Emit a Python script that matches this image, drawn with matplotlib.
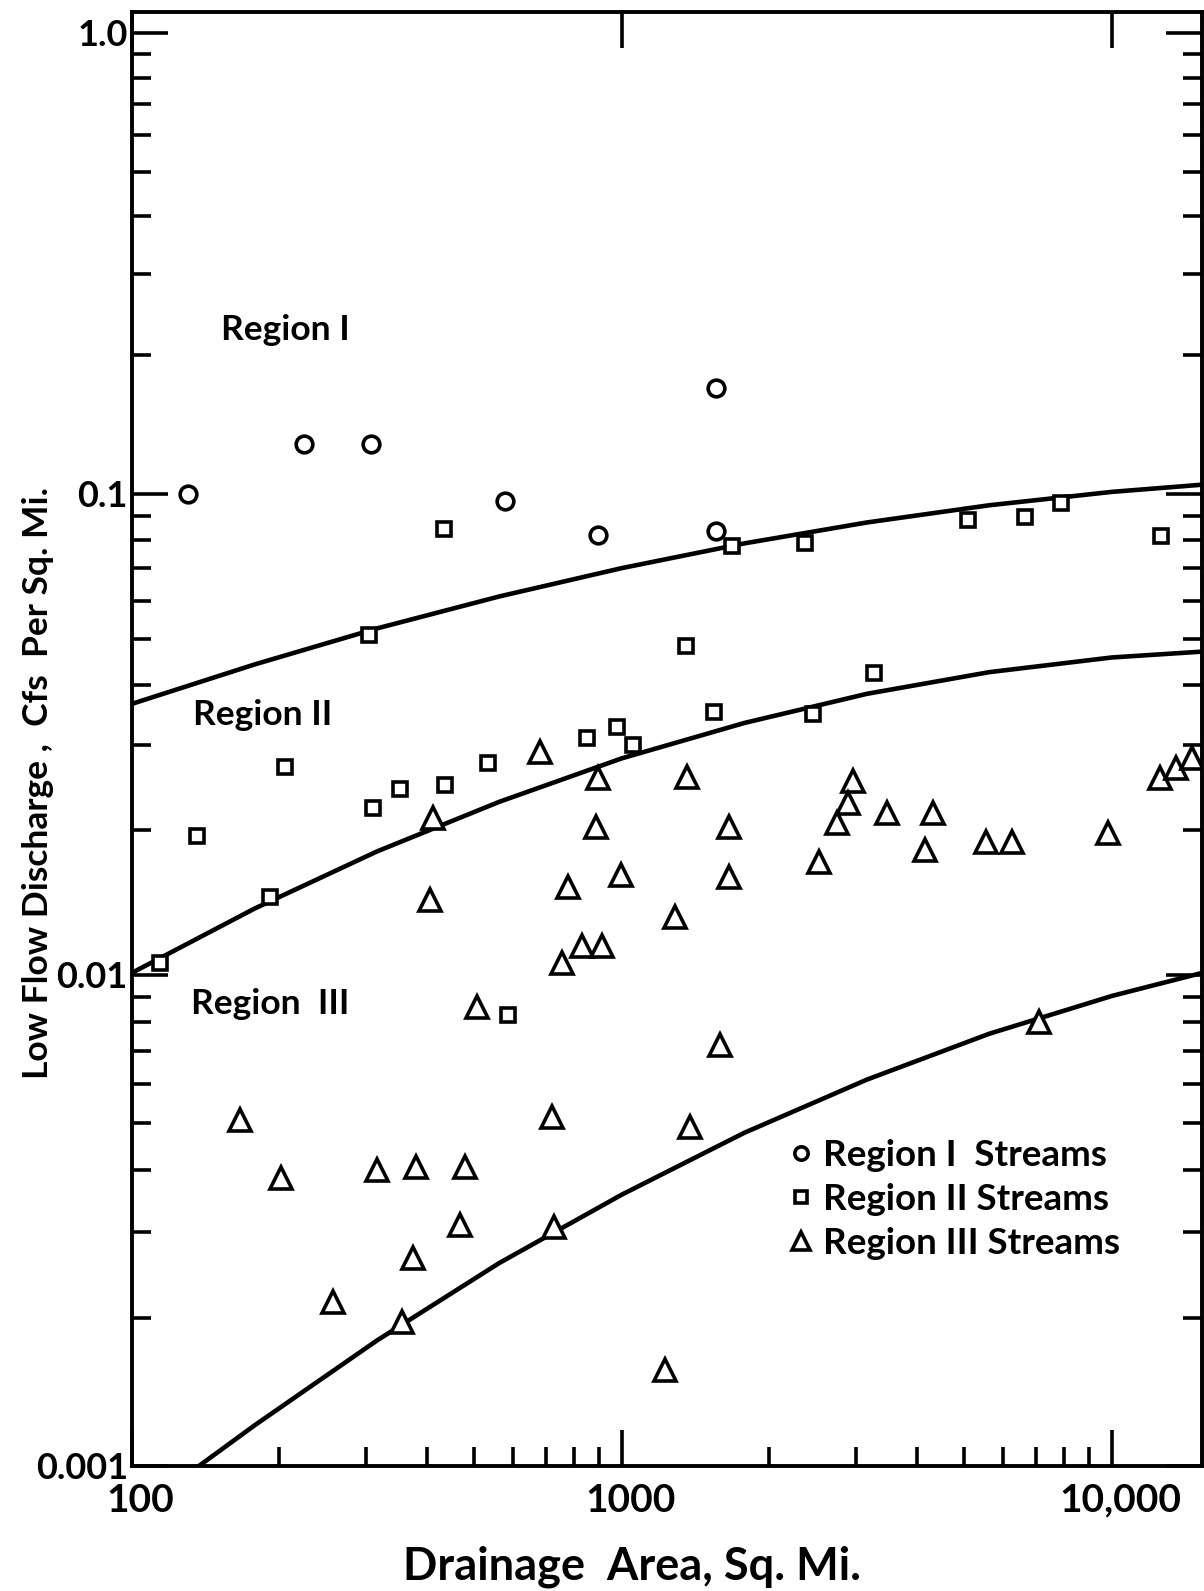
import numpy as np
import matplotlib.pyplot as plt
import matplotlib.transforms as mtransforms
from matplotlib.ticker import FixedLocator, NullFormatter, LogLocator

"""
  Low flow discharge vs drainage area (log-log), three regions
"""

plt.rcParams['font.family'] = ['Lato', 'DejaVu Sans']
plt.rcParams['font.weight'] = 'bold'

# Region I streams (circles)
r1_area = [130, 224, 307, 576, 893, 1556, 1556]
r1_q = [0.100, 0.128, 0.128, 0.0967, 0.0822, 0.170, 0.0838]

# Region II streams (squares)
r2_area = [433, 305, 1675, 2360, 5080, 6640, 7860, 12590, 1352, 3265, 1541, 2455,
           977, 849, 1052, 205, 533, 352, 435, 310, 136, 191, 114, 585]
r2_q = [0.0845, 0.0509, 0.0780, 0.0791, 0.0883, 0.0896, 0.0958, 0.0818, 0.0483, 0.0425,
        0.0352, 0.0349, 0.0328, 0.0311, 0.0301, 0.0270, 0.0276, 0.0243, 0.0248, 0.0222,
        0.0194, 0.0145, 0.0106, 0.0083]

# Region III streams (triangles)
r3_area = [681, 893, 1358, 411, 885, 1652, 2958, 2890, 2746, 3477, 4315, 4152, 5530,
           6250, 9820, 12530, 13520, 14560, 995, 1652, 2524, 776, 405, 1282, 828, 910,
           755, 506, 1585, 7100, 166, 719, 1378, 201, 316, 380, 479, 467, 726, 374,
           257, 356, 1225]
r3_q = [0.0290, 0.0257, 0.0258, 0.0212, 0.0203, 0.0203, 0.0253, 0.0228, 0.0207, 0.0217,
        0.0217, 0.0182, 0.0189, 0.0189, 0.0197, 0.0257, 0.0269, 0.0282, 0.0161, 0.0160,
        0.0172, 0.0152, 0.0143, 0.0132, 0.0115, 0.0115, 0.0106, 0.0086, 0.0072, 0.0080,
        0.00507, 0.00514, 0.00490, 0.00386, 0.00401, 0.00407, 0.00407, 0.00310, 0.00307,
        0.00265, 0.00216, 0.00196, 0.00157]

# boundary curves
c1_area = [100, 178, 316, 562, 1000, 1778, 3162, 5623, 10000, 15300]
c1_q = [0.0366, 0.0442, 0.0525, 0.0612, 0.0701, 0.0789, 0.0872, 0.0947, 0.1010, 0.1047]
c2_area = [100, 178, 316, 562, 1000, 1778, 3162, 5623, 10000, 15300]
c2_q = [0.0101, 0.01374, 0.01805, 0.0229, 0.0282, 0.0334, 0.0384, 0.0426, 0.0457, 0.0470]
c3_area = [137, 178, 316, 562, 1000, 1778, 3162, 5623, 10000, 15300]
c3_q = [0.00100, 0.00121, 0.00180, 0.00259, 0.00357, 0.00477, 0.00612, 0.00759, 0.00906, 0.0101]

xticks = [100, 1000, 10000]
xtick_labels = ['100', '1000', '10,000']
yticks = [0.001, 0.01, 0.1, 1.0]
ytick_labels = ['0.001', '0.01', '0.1', '1.0']

# the printed log paper is not quite even: decade lengths from bottom to top
dec_log = np.array([-3.0, -2.0, -1.0, 0.0])
dec_pos = np.array([0.0, 491.0, 972.0, 1433.0])


def fwd(y):
    lv = np.log10(np.maximum(y, 1e-12))
    out = np.interp(lv, dec_log, dec_pos)
    out = np.where(lv > 0, dec_pos[-1] + lv * 461.0, out)
    out = np.where(lv < -3, (lv + 3) * 491.0, out)
    return out


def inv(v):
    lv = np.interp(v, dec_pos, dec_log)
    lv = np.where(v > dec_pos[-1], (v - dec_pos[-1]) / 461.0, lv)
    lv = np.where(v < 0, v / 491.0 - 3, lv)
    return 10.0 ** lv


fig = plt.figure(figsize=(12.04, 15.91), dpi=100)
ax = fig.add_axes([0.1096, 0.0786, 0.8887, 0.9139])
ax.set_xscale('log')
ax.set_yscale('function', functions=(fwd, inv))
ax.set_xlim(100, 15270)
ax.set_ylim(0.001, 1.11)

for cx, cy in [(c1_area, c1_q), (c2_area, c2_q), (c3_area, c3_q)]:
    ax.plot(cx, cy, color='black', linewidth=3.3, solid_joinstyle='round', zorder=2)

mk = dict(linestyle='None', markerfacecolor='white', markeredgecolor='black',
          markeredgewidth=2.6, zorder=3)
ax.plot(r1_area, r1_q, marker='o', markersize=12, label='Region I  Streams', **mk)
ax.plot(r2_area, r2_q, marker='s', markersize=10.5, label='Region II Streams', **mk)
ax.plot(r3_area, r3_q, marker='^', markersize=16, label='Region III Streams', **mk)

# ticks
ax.set_xticks(xticks)
ax.set_xticklabels(xtick_labels)
ax.xaxis.set_minor_locator(LogLocator(base=10, subs=np.arange(2, 10), numticks=20))
ax.xaxis.set_minor_formatter(NullFormatter())
ax.yaxis.set_major_locator(FixedLocator(yticks))
ax.set_yticklabels(ytick_labels)
ax.yaxis.set_minor_locator(FixedLocator([k * 10.0 ** d for d in (-3, -2, -1)
                                         for k in range(2, 10)]))
ax.yaxis.set_minor_formatter(NullFormatter())
ax.tick_params(which='major', direction='in', length=26, width=2.6,
               top=True, right=True)
ax.tick_params(which='minor', direction='in', length=14, width=2.6,
               top=False, right=True)
ax.tick_params(axis='x', which='major', pad=12, labelsize=28)
ax.tick_params(axis='y', which='major', pad=3, labelsize=26)
for sp in ax.spines.values():
    sp.set_linewidth(2.8)

# x labels sit a little right of their ticks
shift = mtransforms.ScaledTranslation(6 / 72, 0, fig.dpi_scale_trans)
for lab in ax.get_xticklabels():
    lab.set_transform(lab.get_transform() + shift)

# region labels
ax.text(0.083, 0.781, 'Region I', transform=ax.transAxes, fontsize=25.5, va='center')
ax.text(0.057, 0.5165, 'Region II', transform=ax.transAxes, fontsize=25.5, va='center')
ax.text(0.055, 0.318, 'Region  III', transform=ax.transAxes, fontsize=25.5, va='center')

leg = ax.legend(loc='upper left', bbox_to_anchor=(0.615, 0.2248), frameon=False,
                fontsize=26.5, handlelength=0.6, handletextpad=0.3,
                labelspacing=0.3, borderaxespad=0, borderpad=0, markerscale=0.8)

fig.text(0.5249, 0.0151, 'Drainage  Area, Sq. Mi.', fontsize=32.5,
         ha='center', va='center')
fig.text(0.0316, 0.508, 'Low Flow Discharge ,  Cfs  Per Sq. Mi.', fontsize=25.5,
         rotation=90, ha='center', va='center')

fig.savefig('out.png', dpi=100, facecolor='white')
